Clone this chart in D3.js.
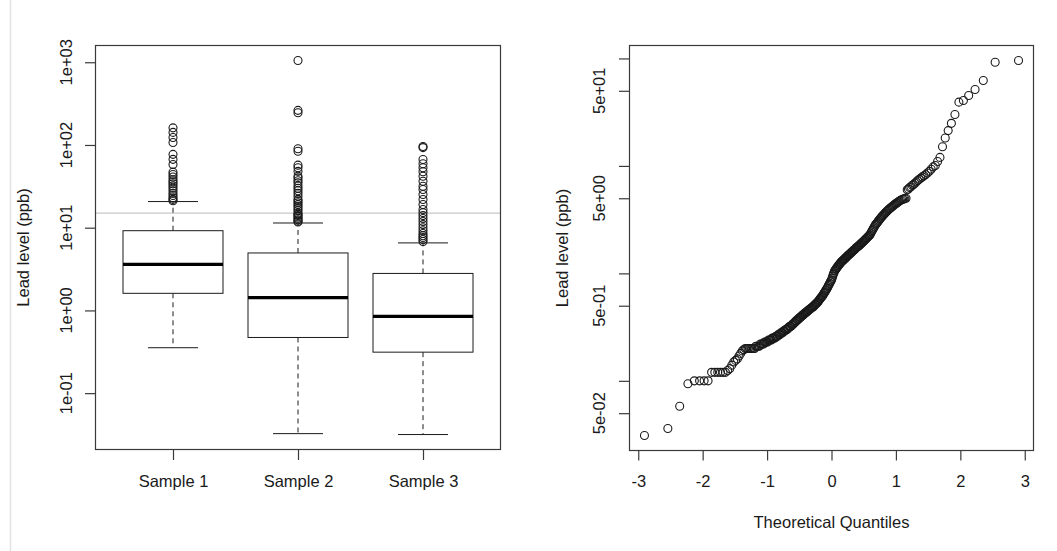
<!DOCTYPE html>
<html>
<head>
<meta charset="utf-8">
<script src="https://cdn.jsdelivr.net/npm/d3@7"></script>
<style>
  html, body { margin: 0; padding: 0; background: #fff; }
  svg { display: block; font-family: "Liberation Sans", Arial, Helvetica, sans-serif; }
</style>
</head>
<body>
<svg id="chart" width="1057" height="551"></svg>
<script>
// ---------------- data ----------------
const sampleNames = ["Sample 1", "Sample 2", "Sample 3"];
const whiskerLow  = [0.354, 0.0324, 0.0316];
const quart1      = [1.61, 0.471, 0.313];
const medians     = [3.6, 1.43, 0.846];
const quart3      = [9.2, 4.95, 2.80];
const whiskerHigh = [20.7, 11.4, 6.55];
const outliers1 = [161, 142, 123, 107, 77, 67, 58, 47, 44, 41, 38, 36, 34, 32, 30, 28, 26, 24.5, 23, 22, 21.2];
const outliers2 = [1051, 262, 245, 90, 84, 57, 53, 48, 42, 40, 37, 35, 32, 30, 28, 26, 24, 22, 21, 20, 19, 18, 17, 16, 15, 14.5, 14, 13.5, 13, 12.5, 12, 11.7];
const outliers3 = [96, 93, 66.7, 59.2, 53, 47.4, 41.9, 36.5, 31.7, 28.9, 25.2, 21.9, 19.1, 16.6, 15.2, 14, 12.9, 11.9, 10.9, 10, 9.2, 8.5, 8.0, 7.6, 7.2, 6.8];
const actionLevel = 15;
const boxTickValues = [0.1, 1, 10, 100, 1000];
const boxTickLabels = ["1e-01", "1e+00", "1e+01", "1e+02", "1e+03"];

// sorted lead levels shown in the normal QQ plot (271 values)
const qqValues = [
  0.031, 0.036, 0.058, 0.094,
  0.1, 0.1, 0.1, 0.1,
  0.12, 0.12, 0.12, 0.12, 0.12, 0.12,
  0.125, 0.13, 0.14, 0.15, 0.155, 0.16, 0.17, 0.18, 0.19, 0.195,
  0.2, 0.2, 0.2, 0.2, 0.2, 0.2, 0.2, 0.2, 0.21, 0.21,
  0.21, 0.21, 0.22, 0.22, 0.22, 0.22, 0.23, 0.23, 0.23, 0.23, 0.24, 0.24, 0.24, 0.24, 0.25, 0.25,
  0.25, 0.25, 0.26, 0.26, 0.26, 0.27, 0.27, 0.27, 0.28, 0.28, 0.28, 0.29, 0.29, 0.29, 0.30, 0.30, 0.30, 0.31, 0.31, 0.32, 0.32, 0.32, 0.33, 0.33, 0.34,
  0.34, 0.35, 0.35, 0.36, 0.36, 0.37, 0.37, 0.38, 0.38, 0.39, 0.39, 0.40, 0.40, 0.41, 0.41, 0.42, 0.42, 0.43, 0.43,
  0.44, 0.44, 0.45, 0.45, 0.46, 0.46, 0.47, 0.47, 0.48, 0.48, 0.49, 0.49, 0.50,
  0.51, 0.51, 0.52, 0.53, 0.53, 0.54, 0.55, 0.56,
  0.57, 0.58, 0.59, 0.60, 0.61, 0.62, 0.63, 0.65,
  0.66, 0.67, 0.69, 0.70, 0.72, 0.73, 0.75, 0.77, 0.79, 0.81, 0.83, 0.85,
  0.87, 0.90, 0.94, 0.98, 1.01, 1.05,
  1.07, 1.09, 1.11, 1.13, 1.15, 1.17,
  1.19, 1.21, 1.23, 1.25, 1.27, 1.29, 1.30, 1.32, 1.33, 1.35,
  1.37, 1.39, 1.40, 1.42, 1.44, 1.46, 1.48, 1.49, 1.51, 1.53, 1.55,
  1.57, 1.59, 1.61, 1.63, 1.65, 1.67, 1.69, 1.72, 1.74, 1.76,
  1.78, 1.80, 1.82, 1.85, 1.87, 1.90, 1.92, 1.95, 1.97, 2.00,
  2.03, 2.06, 2.09, 2.12, 2.15, 2.19, 2.22, 2.25, 2.29,
  2.36, 2.43, 2.50, 2.57, 2.64, 2.72, 2.80, 2.86, 2.92,
  2.98, 3.05, 3.12, 3.19, 3.26, 3.33, 3.40, 3.46,
  3.53, 3.60, 3.67, 3.74, 3.81, 3.88, 3.95, 4.02,
  4.08, 4.15, 4.22, 4.29, 4.36, 4.43, 4.50,
  4.57, 4.64, 4.71, 4.78, 4.85, 4.90,
  4.93, 4.96, 5.00,
  6.0, 6.1, 6.3, 6.4, 6.6, 6.7, 6.9,
  7.1, 7.3, 7.5, 7.7, 7.9, 8.1, 8.3,
  8.6, 8.9, 9.3, 9.8,
  10.1, 11.0, 12.0, 15.1, 18.2, 21.3, 24.9, 30.1, 39.2, 40.6, 45.2, 51.4, 62.4, 92.3, 95.7
];
const qqYTickValues = [0.05, 0.1, 0.5, 1, 5, 10, 50, 100];
const qqYTickLabels = ["5e-02", "", "5e-01", "", "5e+00", "", "5e+01", ""];
const qqXTickValues = [-3, -2, -1, 0, 1, 2, 3];
const yTitle = "Lead level (ppb)";
const xTitleQQ = "Theoretical Quantiles";

// ---------------- helpers ----------------
function qnorm(p) {
  const a = [-3.969683028665376e+01, 2.209460984245205e+02, -2.759285104469687e+02, 1.383577518672690e+02, -3.066479806614716e+01, 2.506628277459239e+00];
  const b = [-5.447609879822406e+01, 1.615858368580409e+02, -1.556989798598866e+02, 6.680131188771972e+01, -1.328068155288572e+01];
  const c = [-7.784894002430293e-03, -3.223964580411365e-01, -2.400758277161838e+00, -2.549671348561201e+00, 4.374664141464968e+00, 2.938163982698783e+00];
  const d = [7.784695709041462e-03, 3.224671290700398e-01, 2.445134137142996e+00, 3.754408661907416e+00];
  const pl = 0.02425, ph = 1 - pl;
  if (p < pl) { const q = Math.sqrt(-2 * Math.log(p)); return (((((c[0]*q+c[1])*q+c[2])*q+c[3])*q+c[4])*q+c[5]) / ((((d[0]*q+d[1])*q+d[2])*q+d[3])*q+1); }
  if (p > ph) { const q = Math.sqrt(-2 * Math.log(1 - p)); return -(((((c[0]*q+c[1])*q+c[2])*q+c[3])*q+c[4])*q+c[5]) / ((((d[0]*q+d[1])*q+d[2])*q+d[3])*q+1); }
  const q = p - 0.5, r = q * q;
  return (((((a[0]*r+a[1])*r+a[2])*r+a[3])*r+a[4])*r+a[5])*q / (((((b[0]*r+b[1])*r+b[2])*r+b[3])*r+b[4])*r+1);
}
// R style 4% axis expansion
function expand(lo, hi) { const e = (hi - lo) * 0.04; return [lo - e, hi + e]; }
function logExpand(lo, hi) { const r = expand(Math.log10(lo), Math.log10(hi)); return [Math.pow(10, r[0]), Math.pow(10, r[1])]; }

const svg = d3.select("#chart");
const INK = "#1a1a1a";
const FRAME = "#3a3a3a";
const FS = 16.5;

// page edge line from the screenshot
svg.append("line").attr("x1", 10.5).attr("x2", 10.5).attr("y1", 0).attr("y2", 551)
  .attr("stroke", "#e3e3e3").attr("stroke-width", 1.5);

// ================= LEFT: box plots =================
const L = { left: 95.5, right: 500.5, top: 45.5, bottom: 449.5 };
const allBox = [].concat(whiskerLow, whiskerHigh, outliers1, outliers2, outliers3);
const yBox = d3.scaleLog().domain(logExpand(d3.min(allBox), d3.max(allBox))).range([L.bottom, L.top]);
const xBox = d3.scaleLinear().domain(expand(0.5, sampleNames.length + 0.5)).range([L.left, L.right]);
const gL = svg.append("g");

// action level line
gL.append("line").attr("x1", L.left).attr("x2", L.right)
  .attr("y1", yBox(actionLevel)).attr("y2", yBox(actionLevel))
  .attr("stroke", "#c8c8c8").attr("stroke-width", 1.2);

const boxW = 0.8, capW = 0.4;
const outlierSets = [outliers1, outliers2, outliers3];
sampleNames.forEach((name, i) => {
  const cx = xBox(i + 1);
  const hw = (xBox(1 + boxW / 2) - xBox(1));
  const cw = (xBox(1 + capW / 2) - xBox(1));
  const g = gL.append("g");
  g.append("line").attr("x1", cx).attr("x2", cx).attr("y1", yBox(quart3[i])).attr("y2", yBox(whiskerHigh[i]))
    .attr("stroke", INK).attr("stroke-width", 1).attr("stroke-dasharray", "5,4");
  g.append("line").attr("x1", cx).attr("x2", cx).attr("y1", yBox(quart1[i])).attr("y2", yBox(whiskerLow[i]))
    .attr("stroke", INK).attr("stroke-width", 1).attr("stroke-dasharray", "5,4");
  [whiskerHigh[i], whiskerLow[i]].forEach(v => {
    g.append("line").attr("x1", cx - cw).attr("x2", cx + cw).attr("y1", yBox(v)).attr("y2", yBox(v))
      .attr("stroke", INK).attr("stroke-width", 1);
  });
  g.append("rect").attr("x", cx - hw).attr("width", 2 * hw)
    .attr("y", yBox(quart3[i])).attr("height", yBox(quart1[i]) - yBox(quart3[i]))
    .attr("fill", "white").attr("stroke", INK).attr("stroke-width", 1);
  g.append("line").attr("x1", cx - hw).attr("x2", cx + hw).attr("y1", yBox(medians[i])).attr("y2", yBox(medians[i]))
    .attr("stroke", "#000").attr("stroke-width", 3.2);
  g.selectAll("circle").data(outlierSets[i]).join("circle")
    .attr("cx", cx).attr("cy", d => yBox(d)).attr("r", 4)
    .attr("fill", "none").attr("stroke", INK).attr("stroke-width", 1.1);
});

gL.append("rect").attr("x", L.left).attr("y", L.top).attr("width", L.right - L.left).attr("height", L.bottom - L.top)
  .attr("fill", "none").attr("stroke", FRAME).attr("stroke-width", 1.2);

const yAxisL = gL.append("g").attr("transform", `translate(${L.left},0)`)
  .call(d3.axisLeft(yBox).tickValues(boxTickValues).tickSize(10.5).tickFormat(""));
yAxisL.select(".domain").remove();
yAxisL.selectAll(".tick line").attr("stroke", FRAME).attr("stroke-width", 1.2);
gL.selectAll(".ylabL").data(boxTickValues).join("text")
  .attr("transform", (d) => `translate(${L.left - 24},${yBox(d)}) rotate(-90)`)
  .attr("text-anchor", "middle").attr("font-size", FS).attr("fill", INK)
  .text((d, i) => boxTickLabels[i]);

const xAxisL = gL.append("g").attr("transform", `translate(0,${L.bottom})`)
  .call(d3.axisBottom(xBox).tickValues([1, 2, 3]).tickSize(10.5).tickPadding(15).tickFormat((d) => sampleNames[d - 1]));
xAxisL.select(".domain").remove();
xAxisL.selectAll(".tick line").attr("stroke", FRAME).attr("stroke-width", 1.2);
xAxisL.selectAll(".tick text").attr("font-size", FS).attr("fill", INK).attr("font-family", null);

gL.append("text").attr("transform", `translate(28.5,${(L.top + L.bottom) / 2}) rotate(-90)`)
  .attr("text-anchor", "middle").attr("font-size", FS).attr("fill", INK).text(yTitle);

// ================= RIGHT: normal QQ plot =================
const R = { left: 629.5, right: 1033.5, top: 45.5, bottom: 450.5 };
const n = qqValues.length;
const qqPoints = qqValues.map((v, i) => ({ q: qnorm((i + 1 - 0.5) / n), v }));
const xQQ = d3.scaleLinear().domain(expand(d3.min(qqPoints, d => d.q), d3.max(qqPoints, d => d.q))).range([R.left, R.right]);
const yQQ = d3.scaleLog().domain(logExpand(d3.min(qqValues), d3.max(qqValues))).range([R.bottom, R.top]);
const gR = svg.append("g");

gR.selectAll("circle").data(qqPoints).join("circle")
  .attr("cx", d => xQQ(d.q)).attr("cy", d => yQQ(d.v)).attr("r", 4)
  .attr("fill", "none").attr("stroke", INK).attr("stroke-width", 1.1);

gR.append("rect").attr("x", R.left).attr("y", R.top).attr("width", R.right - R.left).attr("height", R.bottom - R.top)
  .attr("fill", "none").attr("stroke", FRAME).attr("stroke-width", 1.2);

const yAxisR = gR.append("g").attr("transform", `translate(${R.left},0)`)
  .call(d3.axisLeft(yQQ).tickValues(qqYTickValues).tickSize(10.5).tickFormat(""));
yAxisR.select(".domain").remove();
yAxisR.selectAll(".tick line").attr("stroke", FRAME).attr("stroke-width", 1.2);
gR.selectAll(".ylabR").data(qqYTickValues).join("text")
  .attr("transform", (d) => `translate(${R.left - 24.5},${yQQ(d)}) rotate(-90)`)
  .attr("text-anchor", "middle").attr("font-size", FS).attr("fill", INK)
  .text((d, i) => qqYTickLabels[i]);

const xAxisR = gR.append("g").attr("transform", `translate(0,${R.bottom})`)
  .call(d3.axisBottom(xQQ).tickValues(qqXTickValues).tickSize(10).tickPadding(15).tickFormat(d3.format("d")));
xAxisR.select(".domain").remove();
xAxisR.selectAll(".tick line").attr("stroke", FRAME).attr("stroke-width", 1.2);
xAxisR.selectAll(".tick text").attr("font-size", FS).attr("fill", INK).attr("font-family", null)
  .text(d => d < 0 ? "-" + Math.abs(d) : String(d));

gR.append("text").attr("transform", `translate(568,${(R.top + R.bottom) / 2}) rotate(-90)`)
  .attr("text-anchor", "middle").attr("font-size", FS).attr("fill", INK).text(yTitle);
gR.append("text").attr("x", (R.left + R.right) / 2).attr("y", 528)
  .attr("text-anchor", "middle").attr("font-size", FS).attr("fill", INK).text(xTitleQQ);
</script>
</body>
</html>
